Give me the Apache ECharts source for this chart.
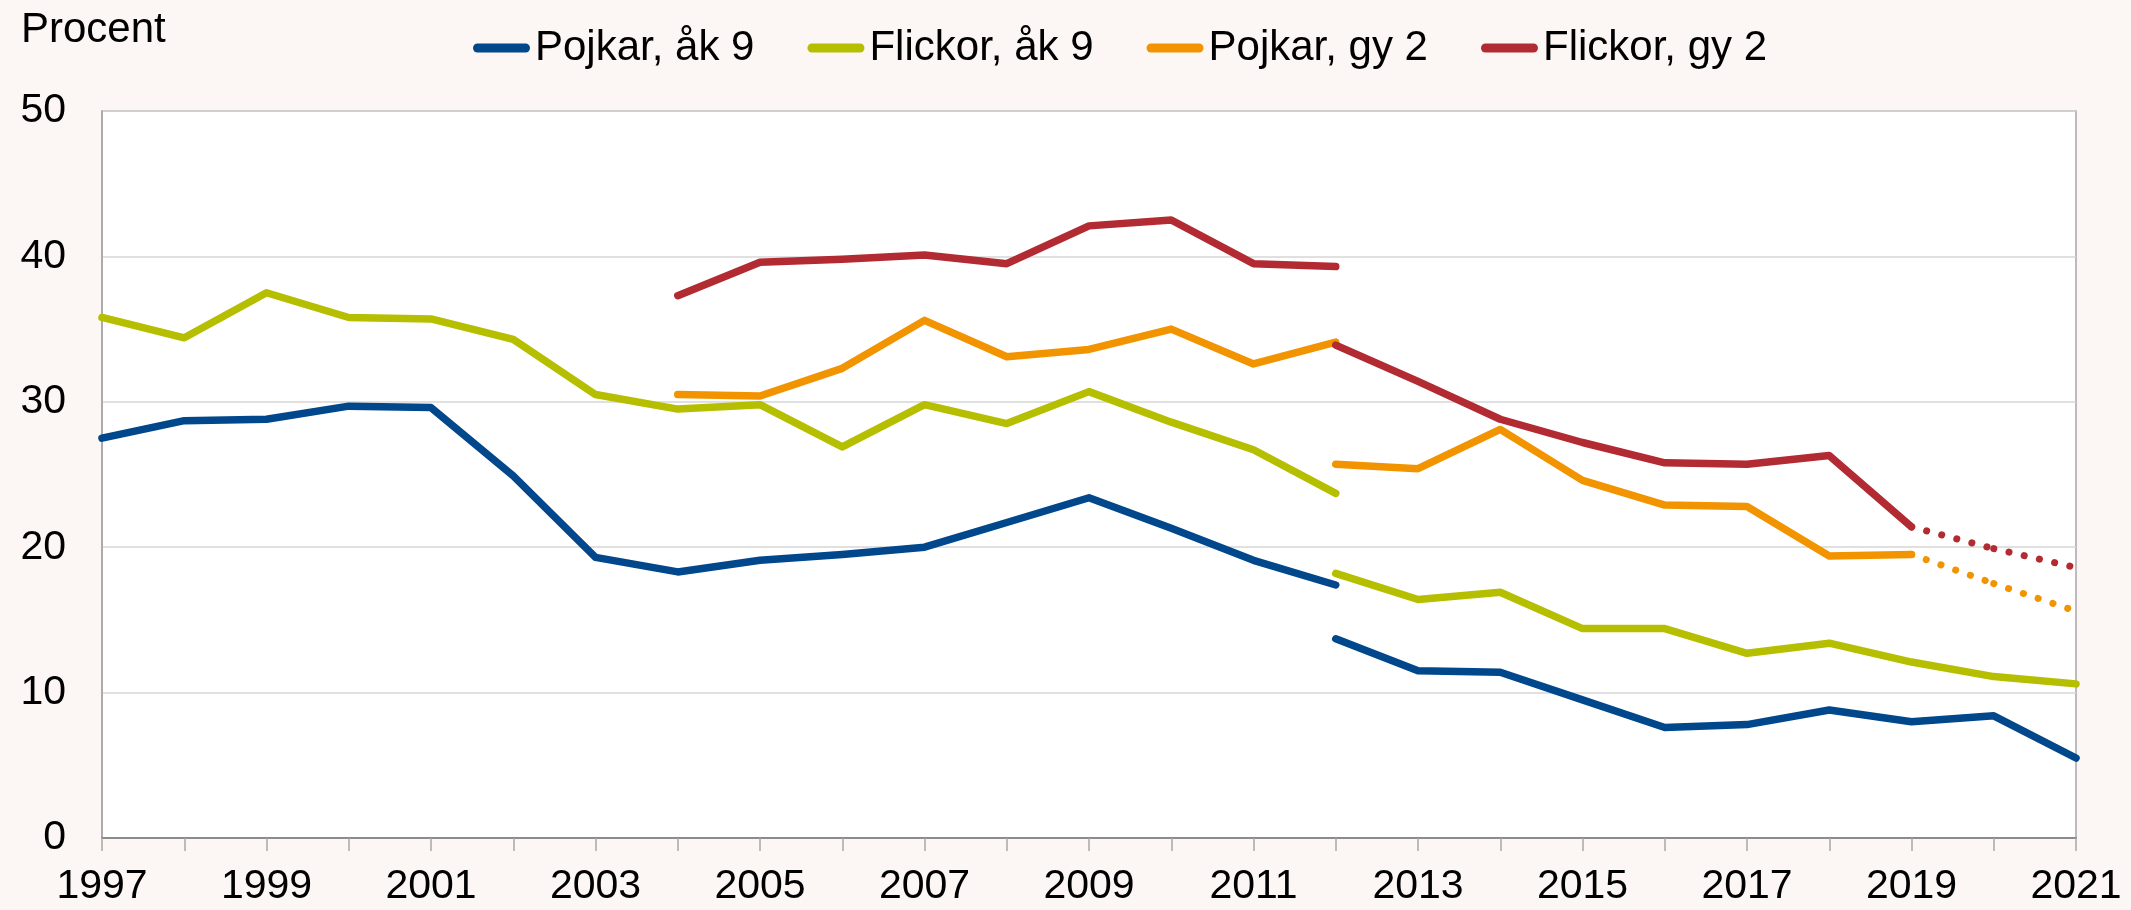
<!DOCTYPE html>
<html>
<head>
<meta charset="utf-8">
<script src="https://cdn.jsdelivr.net/npm/echarts@6/dist/echarts.min.js"></script>
<style>
html,body{margin:0;padding:0;background:#fcf6f5;}
#chart{width:2131px;height:910px;}
</style>
</head>
<body>
<div id="chart"></div>
<script>
// Categories (years)
const years = [1997,1998,1999,2000,2001,2002,2003,2004,2005,2006,2007,2008,2009,2010,2011,2012,2013,2014,2015,2016,2017,2018,2019,2020,2021];
const yTicks = [0,10,20,30,40,50];
const seriesNames = ['Pojkar, åk 9','Flickor, åk 9','Pojkar, gy 2','Flickor, gy 2'];
const seriesColors = ['#00478c','#b6be00','#f29400','#b22a32'];

// Pojkar, åk 9
const pojkarAk9Old = [27.5,28.7,28.8,29.7,29.6,24.9,19.3,18.3,19.1,19.5,20.0,21.7,23.4,21.3,19.1,17.4]; // 1997-2012
const pojkarAk9New = [13.7,11.5,11.4,9.5,7.6,7.8,8.8,8.0,8.4,5.5];                                    // 2012-2021
// Flickor, åk 9
const flickorAk9Old = [35.8,34.4,37.5,35.8,35.7,34.3,30.5,29.5,29.8,26.9,29.8,28.5,30.7,28.6,26.7,23.7]; // 1997-2012
const flickorAk9New = [18.2,16.4,16.9,14.4,14.4,12.7,13.4,12.1,11.1,10.6];                               // 2012-2021
// Pojkar, gy 2
const pojkarGy2Old = [30.5,30.4,32.3,35.6,33.1,33.6,35.0,32.6,34.1]; // 2004-2012
const pojkarGy2New = [25.7,25.4,28.1,24.6,22.9,22.8,19.4,19.5];      // 2012-2019
const pojkarGy2Proj = [19.5,17.5,15.6];                              // 2019-2021 (dotted)
// Flickor, gy 2
const flickorGy2Old = [37.3,39.6,39.8,40.1,39.5,42.1,42.5,39.5,39.3]; // 2004-2012
const flickorGy2New = [33.9,31.4,28.8,27.2,25.8,25.7,26.3,21.4];      // 2012-2019
const flickorGy2Proj = [21.4,19.9,18.6];                              // 2019-2021 (dotted)

function seg(startYear, values) {
  return years.map(y => {
    const i = y - startYear;
    return (i >= 0 && i < values.length) ? values[i] : null;
  });
}

const LW = 7.5;
function lineSeries(idx, data, dotted) {
  return {
    name: seriesNames[idx],
    type: 'line',
    data: data,
    connectNulls: false,
    showSymbol: false,
    symbol: 'none',
    silent: true,
    color: seriesColors[idx],
    lineStyle: {
      color: seriesColors[idx],
      width: dotted ? 7 : LW,
      type: dotted ? [0.1, 15.5] : 'solid',
      cap: 'round',
      join: 'round'
    },
    z: 2 + idx
  };
}

// dotted projections: one piece per year interval (dash pattern restarts at each point)
function dottedPieces(idx, startYear, values) {
  const out = [];
  for (let k = 0; k < values.length - 1; k++) {
    out.push(lineSeries(idx, seg(startYear + k, values.slice(k, k + 2)), true));
  }
  return out;
}

const series = [
  lineSeries(0, seg(1997, pojkarAk9Old)),
  lineSeries(0, seg(2012, pojkarAk9New)),
  lineSeries(1, seg(1997, flickorAk9Old)),
  lineSeries(1, seg(2012, flickorAk9New)),
  lineSeries(2, seg(2004, pojkarGy2Old)),
  lineSeries(2, seg(2012, pojkarGy2New)),
  ...dottedPieces(2, 2019, pojkarGy2Proj),
  lineSeries(3, seg(2004, flickorGy2Old)),
  lineSeries(3, seg(2012, flickorGy2New)),
  ...dottedPieces(3, 2019, flickorGy2Proj)
];

const FONT = '"Liberation Sans", Arial, sans-serif';
const chart = echarts.init(document.getElementById('chart'), null, {renderer: 'canvas'});
chart.setOption({
  backgroundColor: '#fcf6f5',
  animation: false,
  title: {
    text: 'Procent',
    left: 16,
    top: 4,
    textStyle: {fontFamily: FONT, fontSize: 42, fontWeight: 'normal', color: '#000'}
  },
  legend: {
    data: seriesNames.map((n, i) => ({name: n, itemStyle: {color: seriesColors[i]}})),
    left: 468,
    top: 22,
    icon: 'path://M4.5,0 L52.5,0 A4.5,4.5 0 0 1 52.5,9 L4.5,9 A4.5,4.5 0 0 1 4.5,0 Z',
    itemWidth: 57,
    itemHeight: 9,
    itemGap: 53,
    selectedMode: false,
    textStyle: {fontFamily: FONT, fontSize: 42, color: '#000'}
  },
  grid: {
    left: 102, right: 55, top: 111, bottom: 72,
    show: true,
    backgroundColor: '#ffffff',
    borderColor: '#a6a6a6',
    borderWidth: 1.5
  },
  xAxis: {
    type: 'category',
    data: years.map(String),
    boundaryGap: false,
    axisLine: {show: true, lineStyle: {color: '#8c8c8c', width: 2}},
    axisTick: {show: true, interval: 0, length: 13, lineStyle: {color: '#a6a6a6', width: 1.5}},
    axisLabel: {interval: 1, margin: 28, fontFamily: FONT, fontSize: 41, color: '#000'},
    splitLine: {show: false}
  },
  yAxis: {
    type: 'value',
    min: yTicks[0],
    max: yTicks[yTicks.length - 1],
    interval: 10,
    axisLine: {show: true, lineStyle: {color: '#a6a6a6', width: 1.5}},
    axisTick: {show: false},
    axisLabel: {margin: 36, fontFamily: FONT, fontSize: 41, color: '#000'},
    splitLine: {show: true, lineStyle: {color: '#d6d6d6', width: 1.5}}
  },
  series: series
});
</script>
</body>
</html>
